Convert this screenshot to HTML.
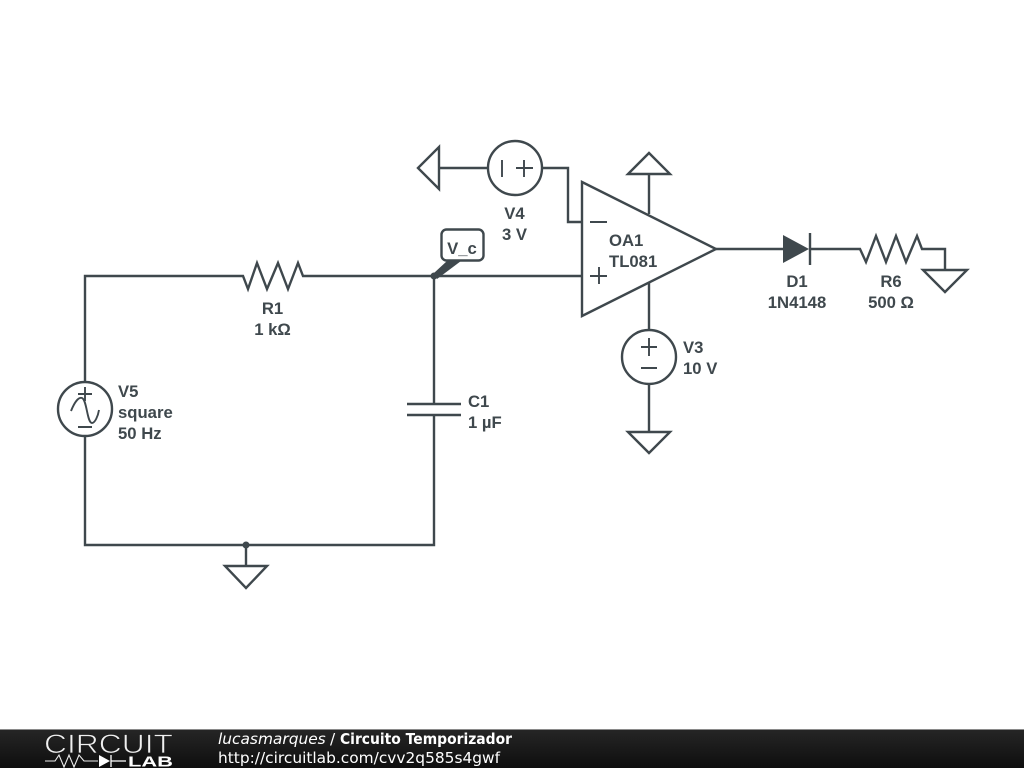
<!DOCTYPE html>
<html><head><meta charset="utf-8"><style>
html,body{margin:0;padding:0;background:#fff;width:1024px;height:768px;overflow:hidden}
svg{display:block;position:absolute;left:0;top:0}
.w{fill:none;stroke:#3f484d;stroke-width:2.4;stroke-linejoin:miter}
.t{fill:none;stroke:#3f484d;stroke-width:1.9}
.l{font-family:"Liberation Sans",sans-serif;font-weight:bold;font-size:16.7px;fill:#3f484d}
.f{font-family:"DejaVu Sans",sans-serif;font-size:15.4px;fill:#fff}
</style></head><body>
<svg width="1024" height="768" viewBox="0 0 1024 768" xmlns="http://www.w3.org/2000/svg">
<defs><linearGradient id="g" x1="0" y1="0" x2="0" y2="1"><stop offset="0" stop-color="#262626"/><stop offset="1" stop-color="#0e0e0e"/></linearGradient></defs>
<g class="w">
<path d="M85 382V276H243L248 289L257 263L267 289L278 263L288 289L298 263L303 276H582"/>
<path d="M85 437V545H434V415"/>
<path d="M434 276V404"/>
<path d="M407 404H461M407 415H461"/>
<circle cx="85" cy="409" r="27"/>
<path d="M246 545V566M225 566H267L246 588Z"/>
<path d="M418 168L439 147V189Z"/>
<path d="M439 168H488"/>
<circle cx="515" cy="168" r="27"/>
<path d="M542 168H568V222H582"/>
<path d="M582 182V316L716 249Z"/>
<path d="M649 214V174M628 174H670L649 153Z"/>
<path d="M649 283V330"/>
<circle cx="649" cy="357" r="27"/>
<path d="M649 384V432M628 432H670L649 453Z"/>
<path d="M716 249H784"/>
<path d="M810 233V265"/>
<path d="M810 249H860L866 262L876 236L886 262L896 236L906 262L917 236L922 249H945V270"/>
<path d="M923 270H967L945 292Z"/>
<rect x="441.500" y="229.500" width="42" height="31" rx="5" fill="#fff"/>
</g>
<g class="t">
<path d="M78 394H92M85 387V401M78 427H92"/>
<path d="M71 411C75 401 79 397 82 398C87 400 87 423 92 423C95 423 98 416 99 410"/>
<path d="M502 160V177M516 168H533M524 160V177"/>
<path d="M590 222H607M590 276H607M599 267V284"/>
<path d="M641 347H657M649 338V356M641 368H657"/>
</g>
<path d="M783 235L809 249L783 263Z" fill="#3f484d"/>
<path d="M434 273L447 261H461L437 279Z" fill="#3f484d"/>
<circle cx="434" cy="276" r="3.500" fill="#3f484d"/>
<circle cx="246" cy="545" r="3.500" fill="#3f484d"/>
<text class="l" x="462" y="254" text-anchor="middle">V_c</text>
<text class="l" x="272.500" y="314" text-anchor="middle">R1</text>
<text class="l" x="272.500" y="335" text-anchor="middle">1 kΩ</text>
<text class="l" x="118" y="397">V5</text>
<text class="l" x="118" y="418">square</text>
<text class="l" x="118" y="439">50 Hz</text>
<text class="l" x="468" y="407">C1</text>
<text class="l" x="468" y="428">1 µF</text>
<text class="l" x="514.500" y="219" text-anchor="middle">V4</text>
<text class="l" x="514.500" y="240" text-anchor="middle">3 V</text>
<text class="l" x="609" y="246">OA1</text>
<text class="l" x="609" y="267">TL081</text>
<text class="l" x="683" y="353">V3</text>
<text class="l" x="683" y="374">10 V</text>
<text class="l" x="797" y="287" text-anchor="middle">D1</text>
<text class="l" x="797" y="308" text-anchor="middle">1N4148</text>
<text class="l" x="891" y="287" text-anchor="middle">R6</text>
<text class="l" x="891" y="308" text-anchor="middle">500 Ω</text>
<rect x="0" y="729" width="1024" height="39" fill="url(#g)"/>
<rect x="0" y="729" width="1024" height="1" fill="#8a8a8a"/>
<text x="44" y="753" font-family="Liberation Sans,sans-serif" font-size="27" fill="#f0f0f0" stroke="#1d1d1d" stroke-width="0.8" textLength="129" lengthAdjust="spacingAndGlyphs">CIRCUIT</text>
<path d="M45 761H55L59 755L64 767L69 755L74 767L79 755L84 761H98" fill="none" stroke="#eee" stroke-width="1.100"/>
<path d="M99 755L110 761L99 767Z" fill="#fff"/>
<path d="M111 755V767M111 761H126" fill="none" stroke="#fff" stroke-width="1.300"/>
<text x="128" y="766.500" font-family="Liberation Sans,sans-serif" font-weight="bold" font-size="14.500" fill="#fff" textLength="45" lengthAdjust="spacingAndGlyphs">LAB</text>
<text class="f" x="218" y="744" font-style="italic">lucasmarques</text>
<text class="f" x="330" y="744">/</text>
<text class="f" x="340" y="744" font-weight="bold" textLength="172" lengthAdjust="spacingAndGlyphs">Circuito Temporizador</text>
<text class="f" x="218" y="763">http://circuitlab.com/cvv2q585s4gwf</text>
</svg>
</body></html>
